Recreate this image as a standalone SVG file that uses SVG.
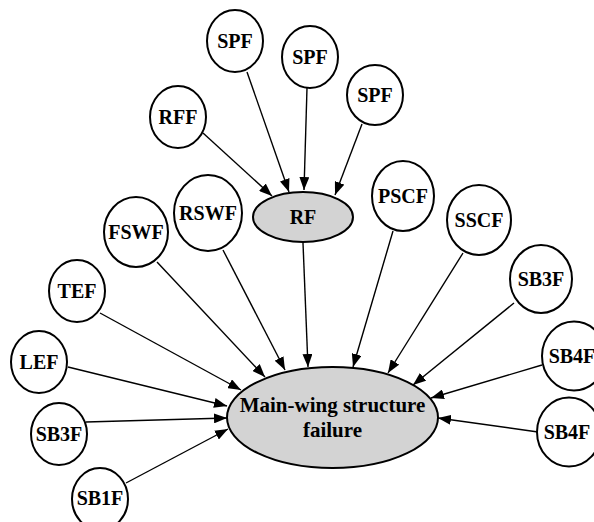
<svg xmlns="http://www.w3.org/2000/svg" width="594" height="522" viewBox="0 0 594 522">
  <style>
    .node ellipse { fill: #ffffff; stroke: #000000; stroke-width: 2; }
    .node.grey ellipse { fill: #d3d3d3; }
    .node text { font-family: "Liberation Serif", "Times New Roman", serif; font-weight: bold; font-size: 20px; fill: #000000; text-anchor: middle; }
    #main text { font-size: 21px; }
    .edges line { stroke: #000000; stroke-width: 1.4; marker-end: url(#arrow); }
  </style>
  <defs>
    <marker id="arrow" markerUnits="userSpaceOnUse" markerWidth="13" markerHeight="10" refX="13" refY="5" orient="auto">
      <path d="M0,0 L13,5 L0,10 z" fill="#000000"/>
    </marker>
  </defs>
  <rect width="594" height="522" fill="#ffffff"/>

  <g class="edges" id="connectors">
    <line x1="247" y1="72" x2="289" y2="192"/>
    <line x1="307" y1="88" x2="304" y2="190"/>
    <line x1="362" y1="124" x2="335" y2="195"/>
    <line x1="203" y1="133" x2="272" y2="196"/>
    <line x1="303" y1="243" x2="308" y2="367"/>
    <line x1="223" y1="250" x2="285" y2="370"/>
    <line x1="157" y1="262" x2="265" y2="377"/>
    <line x1="100" y1="313" x2="241" y2="390"/>
    <line x1="68" y1="367" x2="227" y2="406"/>
    <line x1="86" y1="422" x2="227" y2="418"/>
    <line x1="126" y1="483" x2="228" y2="429"/>
    <line x1="393" y1="231" x2="353" y2="367"/>
    <line x1="463" y1="253" x2="388" y2="373"/>
    <line x1="514" y1="303" x2="413" y2="385"/>
    <line x1="542" y1="365" x2="431" y2="398"/>
    <line x1="538" y1="432" x2="438" y2="418"/>
  </g>

  <g class="node" id="spf1"><ellipse cx="235" cy="41" rx="28" ry="31"/><text x="235" y="48">SPF</text></g>
  <g class="node" id="spf2"><ellipse cx="310" cy="57" rx="28" ry="31"/><text x="310" y="64">SPF</text></g>
  <g class="node" id="spf3"><ellipse cx="375" cy="95" rx="28" ry="30"/><text x="375" y="102">SPF</text></g>
  <g class="node" id="rff"><ellipse cx="178" cy="117" rx="28" ry="31"/><text x="178" y="124">RFF</text></g>
  <g class="node grey" id="rf"><ellipse cx="303" cy="217" rx="50" ry="25"/><text x="303" y="224">RF</text></g>
  <g class="node" id="rswf"><ellipse cx="208" cy="213" rx="34" ry="38"/><text x="208" y="220">RSWF</text></g>
  <g class="node" id="fswf"><ellipse cx="136" cy="232" rx="32" ry="35"/><text x="136" y="239">FSWF</text></g>
  <g class="node" id="pscf"><ellipse cx="403" cy="196" rx="31" ry="35"/><text x="403" y="203">PSCF</text></g>
  <g class="node" id="sscf"><ellipse cx="479" cy="220" rx="32" ry="35"/><text x="479" y="227">SSCF</text></g>
  <g class="node" id="sb3f-r"><ellipse cx="541" cy="279" rx="31" ry="34"/><text x="541" y="286">SB3F</text></g>
  <g class="node" id="tef"><ellipse cx="77" cy="291" rx="28" ry="31"/><text x="77" y="298">TEF</text></g>
  <g class="node" id="lef"><ellipse cx="39" cy="362" rx="28" ry="31"/><text x="39" y="369">LEF</text></g>
  <g class="node" id="sb4f-1"><ellipse cx="574" cy="356" rx="32" ry="34.5"/><text x="572" y="363">SB4F</text></g>
  <g class="node" id="sb3f-l"><ellipse cx="59" cy="434" rx="28" ry="31"/><text x="59" y="441">SB3F</text></g>
  <g class="node" id="sb4f-2"><ellipse cx="569" cy="432" rx="32" ry="34.5"/><text x="567" y="439">SB4F</text></g>
  <g class="node" id="sb1f"><ellipse cx="100" cy="499" rx="28" ry="31"/><text x="100" y="505">SB1F</text></g>
  <g class="node grey" id="main">
    <ellipse cx="332.5" cy="417.5" rx="105.5" ry="50.5"/>
    <text x="332.5" y="412">Main-wing structure</text>
    <text x="332.5" y="437">failure</text>
  </g>
</svg>
